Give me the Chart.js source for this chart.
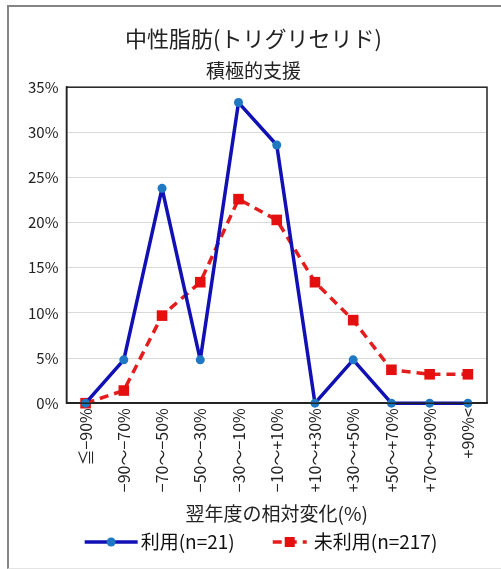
<!DOCTYPE html>
<html lang="ja">
<head>
    <meta charset="UTF-8">
    <title>中性脂肪(トリグリセリド) 積極的支援</title>
    <script src="https://cdn.jsdelivr.net/npm/chart.js"></script>
    <style>
        body { margin: 0; padding: 0; background: #fff; }
        #wrap { position: relative; width: 501px; height: 569px; overflow: hidden; }
        #frame { position: absolute; left: 7px; top: 5px; width: 520px; height: 561px;
                 border-left: 2px solid #858585; border-top: 2px solid #858585; border-bottom: 1px solid #e4e4e4; }
        #chart { position: absolute; left: 0; top: 0; }
    </style>
</head>
<body>
<div id="wrap">
    <div id="frame"></div>
    <canvas id="chart" width="501" height="569"></canvas>
</div>
<script>
    // データ (割合 %)
    const categories = ['≦−90%', '−90〜−70%', '−70〜−50%', '−50〜−30%', '−30〜−10%', '−10〜+10%',
                        '+10〜+30%', '+30〜+50%', '+50〜+70%', '+70〜+90%', '+90%<'];
    const riyou = [0, 4.8, 23.8, 4.8, 33.3, 28.6, 0, 4.8, 0, 0, 0];          // 利用(n=21)
    const miriyou = [0, 1.4, 9.7, 13.4, 22.6, 20.3, 13.4, 9.2, 3.7, 3.2, 3.2]; // 未利用(n=217)
    const yTicks = [0, 5, 10, 15, 20, 25, 30, 35];

    const FONT = '"Noto Sans CJK JP", "Noto Sans", sans-serif';

    // プロット枠
    const frameBox = {
        id: 'frameBox',
        afterDatasetsDraw(chart) {
            const a = chart.chartArea, ctx = chart.ctx;
            ctx.save();
            ctx.strokeStyle = '#222';
            ctx.lineWidth = 1.5;
            ctx.strokeRect(a.left, a.top, a.right - a.left, a.bottom - a.top);
            ctx.restore();
        }
    };

    // 凡例 (線 + マーカー)
    const lineLegend = {
        id: 'lineLegend',
        afterDraw(chart) {
            const ctx = chart.ctx;
            const ds = chart.data.datasets;
            const y = 542;
            ctx.save();
            ctx.font = '19px ' + FONT;
            ctx.textBaseline = 'middle';
            const sw = [53, 34];
            const gapIn = [3, 7];
            const gapOut = 38;
            const tw = ds.map(d => ctx.measureText(d.label).width);
            const total = sw[0] + gapIn[0] + tw[0] + gapOut + sw[1] + gapIn[1] + tw[1];
            let x = 261 - total / 2;
            ds.forEach((d, i) => {
                ctx.strokeStyle = d.borderColor;
                ctx.lineWidth = d.borderWidth;
                ctx.setLineDash(d.borderDash || []);
                ctx.beginPath();
                ctx.moveTo(x, y);
                ctx.lineTo(x + sw[i], y);
                ctx.stroke();
                ctx.setLineDash([]);
                ctx.fillStyle = d.pointBackgroundColor;
                const cx = x + sw[i] / 2;
                if (d.pointStyle === 'rect') {
                    ctx.fillRect(cx - 5, y - 5, 10, 10);
                } else {
                    ctx.beginPath();
                    ctx.arc(cx, y, 4.5, 0, Math.PI * 2);
                    ctx.fill();
                }
                x += sw[i] + gapIn[i];
                ctx.fillStyle = '#111';
                ctx.fillText(d.label, x, y);
                x += tw[i] + gapOut;
            });
            ctx.restore();
        }
    };

    new Chart(document.getElementById('chart'), {
        type: 'line',
        data: {
            labels: categories,
            datasets: [
                {
                    label: '利用(n=21)',
                    data: riyou,
                    borderColor: '#1010b4',
                    borderWidth: 3.5,
                    borderJoinStyle: 'round',
                    pointStyle: 'circle',
                    pointRadius: 4.5,
                    pointBackgroundColor: '#1f78c4',
                    pointBorderColor: '#1f78c4',
                    pointBorderWidth: 0,
                    tension: 0,
                    clip: false,
                    order: 1
                },
                {
                    label: '未利用(n=217)',
                    data: miriyou,
                    borderColor: '#e41c1c',
                    borderWidth: 3.5,
                    borderDash: [9, 6],
                    borderJoinStyle: 'round',
                    pointStyle: 'rect',
                    pointRadius: 7.5,
                    pointBackgroundColor: '#e41010',
                    pointBorderColor: '#e41010',
                    pointBorderWidth: 0,
                    tension: 0,
                    clip: false,
                    order: 2
                }
            ]
        },
        options: {
            responsive: false,
            animation: false,
            devicePixelRatio: 1,
            layout: { padding: { left: 20, right: 14, top: 14, bottom: 44 } },
            plugins: {
                legend: { display: false },
                tooltip: { enabled: false },
                title: {
                    display: true,
                    text: '中性脂肪(トリグリセリド)',
                    color: '#222',
                    font: { family: FONT, size: 22, weight: 'normal' },
                    padding: { top: 11, bottom: 8 }
                },
                subtitle: {
                    display: true,
                    text: '積極的支援',
                    color: '#222',
                    font: { family: FONT, size: 19, weight: 'normal' },
                    padding: { bottom: 5 }
                }
            },
            scales: {
                x: {
                    offset: true,
                    grid: { display: false, drawTicks: false },
                    border: { color: '#222', width: 1.5 },
                    ticks: {
                        minRotation: 90,
                        maxRotation: 90,
                        autoSkip: false,
                        padding: 5,
                        color: '#222',
                        font: { family: FONT, size: 16 }
                    },
                    title: {
                        display: true,
                        text: '翌年度の相対変化(%)',
                        color: '#222',
                        font: { family: FONT, size: 19 },
                        padding: { top: 5, bottom: 0 }
                    }
                },
                y: {
                    min: 0,
                    max: 35,
                    afterBuildTicks: axis => { axis.ticks = yTicks.map(v => ({ value: v })); },
                    grid: { color: '#d9d9d9', lineWidth: 1, drawTicks: false },
                    border: { color: '#222', width: 1.5 },
                    ticks: {
                        padding: 8,
                        color: '#222',
                        font: { family: FONT, size: 15 },
                        callback: v => v + '%'
                    }
                }
            }
        },
        plugins: [frameBox, lineLegend]
    });
</script>
</body>
</html>
